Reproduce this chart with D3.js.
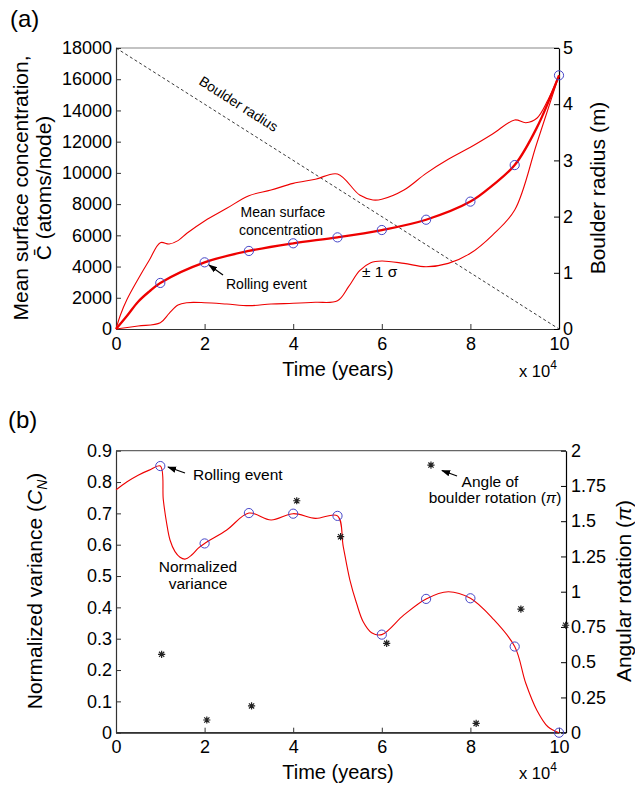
<!DOCTYPE html>
<html><head><meta charset="utf-8">
<script src="https://cdn.jsdelivr.net/npm/d3@7"></script>
<style>
body{margin:0;background:#fff;}
svg{display:block;font-family:"Liberation Sans",Arial,Helvetica,sans-serif;}
</style></head><body>
<svg id="c" width="635" height="787"></svg>
<script>
// ---------- data (a) ----------
const rollYears = [1,2,3,4,5,6,7,8,9,10];
const meanT = [0,0.25,0.5,0.75,1,2,3,4,5,6,7,8,8.5,9,9.5,10];
const meanC = [0,850,1750,2400,2950,4270,5000,5490,5870,6340,7000,8160,9200,10500,12900,16250];
const meanCircles = [2950,4270,5000,5490,5870,6340,7000,8160,10500,16250];
const upT = [0,0.1,0.25,0.5,0.75,1,1.2,1.4,1.6,2,2.5,3,3.5,4,4.5,5,5.5,5.8,6,6.5,7,7.5,8,8.5,9,9.25,9.5,9.75,10];
const upC = [0,900,1900,3200,4400,5530,5445,5660,6130,6920,7730,8540,8900,9330,9590,9930,8580,8265,8310,8900,9970,10870,11640,12490,13390,13215,13500,14670,16250];
const loT = [0,0.5,1,1.2,1.4,1.6,2,2.5,3,3.5,4,4.5,5,5.25,5.5,5.75,6,6.5,7,7.5,8,8.5,9,9.5,10];
const loC = [0,190,405,1000,1540,1685,1685,1600,1495,1600,1645,1710,1810,2710,3740,4250,4355,4205,3990,4205,4850,6020,7620,11900,16250];
const radiusT = [0,10];
const radiusM = [5,0];
const yTicksA = [0,2000,4000,6000,8000,10000,12000,14000,16000,18000];
const yTicksAR = [0,1,2,3,4,5];
const xTicks = [0,2,4,6,8,10];
// ---------- data (b) ----------
const varCircles = [0.851,0.604,0.701,0.699,0.692,0.313,0.427,0.429,0.275,0.0];
const varT = [0,0.25,0.5,0.75,1,1.068,1.144,1.219,1.332,1.445,1.557,1.708,1.858,2,2.5,3,3.5,4,4.5,5,5.13,5.28,5.43,5.58,5.77,6,6.5,7,7.5,8,8.5,9,9.25,9.5,9.75,10];
const varV = [0.775,0.801,0.822,0.838,0.851,0.743,0.668,0.615,0.578,0.560,0.554,0.567,0.589,0.604,0.647,0.701,0.679,0.699,0.684,0.692,0.594,0.487,0.413,0.354,0.319,0.313,0.376,0.427,0.450,0.429,0.365,0.275,0.158,0.072,0.019,0.0];
const starT = [1.03,2.05,3.06,4.08,5.07,6.11,7.11,8.13,9.14,10.15];
const starRot = [0.556,0.09,0.19,1.645,1.39,0.634,1.898,0.066,0.877,0.762];
const yTicksB = [0,0.1,0.2,0.3,0.4,0.5,0.6,0.7,0.8,0.9];
const yTicksBR = [0,0.25,0.5,0.75,1,1.25,1.5,1.75,2];

const svg = d3.select("#c");
const RED = "#ee0000", BLUE = "#4646c8", AX = "#333";

function styleAxis(g, col){
  g.selectAll("path.domain").attr("stroke", col).attr("stroke-width",1.2);
  g.selectAll(".tick line").attr("stroke", col);
  g.selectAll(".tick text").attr("fill","#000").style("font-size","18px").style("font-family","'Liberation Sans',Arial,sans-serif");
}
const fmt = d => String(d);

// ================= Panel (a) =================
const xA = d3.scaleLinear([0,10],[116,559]);
const yA = d3.scaleLinear([0,18000],[329,48]);
const yAR = d3.scaleLinear([0,5],[329,48]);
const gA = svg.append("g");

gA.append("line").attr("x1",116).attr("x2",559).attr("y1",48).attr("y2",48).attr("stroke","#888").attr("stroke-width",1.2);

gA.append("g").attr("transform","translate(0,329)")
  .call(d3.axisBottom(xA).tickValues(xTicks).tickSize(-5).tickSizeOuter(0).tickPadding(8).tickFormat(fmt))
  .call(g=>styleAxis(g,AX));
gA.append("g").attr("transform","translate(116,0)")
  .call(d3.axisLeft(yA).tickValues(yTicksA).tickSize(-5).tickSizeOuter(0).tickPadding(4).tickFormat(fmt))
  .call(g=>styleAxis(g,AX));
gA.append("g").attr("transform","translate(559,0)")
  .call(d3.axisRight(yAR).tickValues(yTicksAR).tickSize(-5).tickSizeOuter(0).tickPadding(4).tickFormat(fmt))
  .call(g=>styleAxis(g,"#000"));

const curve = d3.curveCatmullRom.alpha(0.5);
gA.append("path").datum(radiusT.map((t,i)=>[t,radiusM[i]]))
  .attr("d", d3.line().x(d=>xA(d[0])).y(d=>yAR(d[1])))
  .attr("fill","none").attr("stroke","#222").attr("stroke-width",0.9).attr("stroke-dasharray","3,2.5");

gA.append("path").datum(upT.map((t,i)=>[t,upC[i]]))
  .attr("d", d3.line().x(d=>xA(d[0])).y(d=>yA(d[1])).curve(curve))
  .attr("fill","none").attr("stroke",RED).attr("stroke-width",1.1);
gA.append("path").datum(loT.map((t,i)=>[t,loC[i]]))
  .attr("d", d3.line().x(d=>xA(d[0])).y(d=>yA(d[1])).curve(curve))
  .attr("fill","none").attr("stroke",RED).attr("stroke-width",1.1);
gA.append("path").datum(meanT.map((t,i)=>[t,meanC[i]]))
  .attr("d", d3.line().x(d=>xA(d[0])).y(d=>yA(d[1])).curve(curve))
  .attr("fill","none").attr("stroke",RED).attr("stroke-width",2.3);
gA.selectAll("circle.m").data(rollYears).join("circle")
  .attr("cx",d=>xA(d)).attr("cy",(d,i)=>yA(meanCircles[i])).attr("r",4.6)
  .attr("fill","none").attr("stroke",BLUE).attr("stroke-width",1);

svg.append("defs").append("marker").attr("id","ah").attr("viewBox","0 0 10 10")
  .attr("refX",9).attr("refY",5).attr("markerWidth",9).attr("markerHeight",9).attr("orient","auto")
  .attr("markerUnits","userSpaceOnUse")
  .append("path").attr("d","M0,1.5 L10,5 L0,8.5 Z").attr("fill","#000");

function txt(g,x,y,s,size,anchor){
  return g.append("text").attr("x",x).attr("y",y).attr("text-anchor",anchor||"middle")
    .style("font-size",size+"px").attr("fill","#000").text(s);
}
txt(gA,10,27,"(a)",24,"start");
txt(gA,0,0,"Boulder radius",14).attr("transform","translate(236,108) rotate(32.4)");
txt(gA,283,217,"Mean surface",14);
txt(gA,281,235,"concentration",14);
txt(gA,226,289,"Rolling event",14,"start");
gA.append("line").attr("x1",223).attr("y1",275).attr("x2",209).attr("y2",265)
  .attr("stroke","#000").attr("stroke-width",1.3).attr("marker-end","url(#ah)");
txt(gA,362,277,"± 1 σ",15.5,"start");
txt(gA,338,376,"Time (years)",20);
const xa = txt(gA,519,377,"x 10",16.5,"start");
xa.append("tspan").attr("dy",-8).style("font-size","12px").text("4");
txt(gA,0,0,"Mean surface concentration,",21).attr("transform","translate(28,188) rotate(-90)");
txt(gA,0,0,"C\u0304 (atoms/node)",21).attr("transform","translate(51,188) rotate(-90)");
txt(gA,0,0,"Boulder radius (m)",21).attr("transform","translate(605,188) rotate(-90)");

// ================= Panel (b) =================
const xB = d3.scaleLinear([0,10],[116,559]);
const yB = d3.scaleLinear([0,0.9],[732.7,450.7]);
const yBR = d3.scaleLinear([0,2],[732.7,450.7]);
const gB = svg.append("g");
gB.append("line").attr("x1",116).attr("x2",566).attr("y1",450.7).attr("y2",450.7).attr("stroke","#666").attr("stroke-width",1.2);
gB.append("line").attr("x1",116).attr("x2",566).attr("y1",732.7).attr("y2",732.7).attr("stroke",AX).attr("stroke-width",1.2);
gB.append("g").attr("transform","translate(0,732.7)")
  .call(d3.axisBottom(xB).tickValues(xTicks).tickSize(-5).tickSizeOuter(0).tickPadding(8).tickFormat(fmt))
  .call(g=>styleAxis(g,AX));
gB.append("g").attr("transform","translate(116,0)")
  .call(d3.axisLeft(yB).tickValues(yTicksB).tickSize(-5).tickSizeOuter(0).tickPadding(4).tickFormat(d=>d===0?"0":d3.format(".1f")(d)))
  .call(g=>styleAxis(g,AX));
gB.append("g").attr("transform","translate(566,0)")
  .call(d3.axisRight(yBR).tickValues(yTicksBR).tickSize(-5).tickSizeOuter(0).tickPadding(5).tickFormat(fmt))
  .call(g=>styleAxis(g,"#000"));

gB.append("path").datum(varT.map((t,i)=>[t,varV[i]]))
  .attr("d", d3.line().x(d=>xB(d[0])).y(d=>yB(d[1])).curve(curve))
  .attr("fill","none").attr("stroke",RED).attr("stroke-width",1.1);
gB.selectAll("circle.v").data(rollYears).join("circle")
  .attr("cx",d=>xB(d)).attr("cy",(d,i)=>yB(varCircles[i])).attr("r",4.6)
  .attr("fill","none").attr("stroke",BLUE).attr("stroke-width",1);
const s = 3.6, s2 = 2.6;
const starPath = `M${-s},0L${s},0M0,${-s}L0,${s}M${-s2},${-s2}L${s2},${s2}M${-s2},${s2}L${s2},${-s2}`;
gB.selectAll("path.star").data(starT).join("path")
  .attr("transform",(d,i)=>`translate(${xB(d)},${yBR(starRot[i])})`)
  .attr("d",starPath).attr("stroke","#222").attr("stroke-width",1.2).attr("fill","none");

txt(gB,8,428,"(b)",24,"start");
txt(gB,193,480,"Rolling event",15.5,"start");
gB.append("line").attr("x1",185).attr("y1",473).attr("x2",168).attr("y2",467)
  .attr("stroke","#000").attr("stroke-width",1.3).attr("marker-end","url(#ah)");
txt(gB,198,572,"Normalized",15.5);
txt(gB,198,589,"variance",15.5);
txt(gB,490,487,"Angle of",15.5);
const br = txt(gB,495,503,"boulder rotation (",15.5);
br.append("tspan").style("font-style","italic").text("π");
br.append("tspan").text(")");
gB.append("line").attr("x1",457).attr("y1",476).attr("x2",442).attr("y2",470.5)
  .attr("stroke","#000").attr("stroke-width",1.3).attr("marker-end","url(#ah)");
txt(gB,338,779,"Time (years)",20);
const xb = txt(gB,519,779,"x 10",16.5,"start");
xb.append("tspan").attr("dy",-8).style("font-size","12px").text("4");
const yl = txt(gB,0,0,"Normalized variance (",21).attr("transform","translate(42,591) rotate(-90)");
yl.append("tspan").style("font-style","italic").text("C");
yl.append("tspan").style("font-style","italic").style("font-size","14px").attr("dy",5).text("N");
yl.append("tspan").attr("dy",-5).text(")");
const yr = txt(gB,0,0,"Angular rotation (",21).attr("transform","translate(631,591) rotate(-90)");
yr.append("tspan").style("font-style","italic").text("π");
yr.append("tspan").text(")");
</script></body></html>
